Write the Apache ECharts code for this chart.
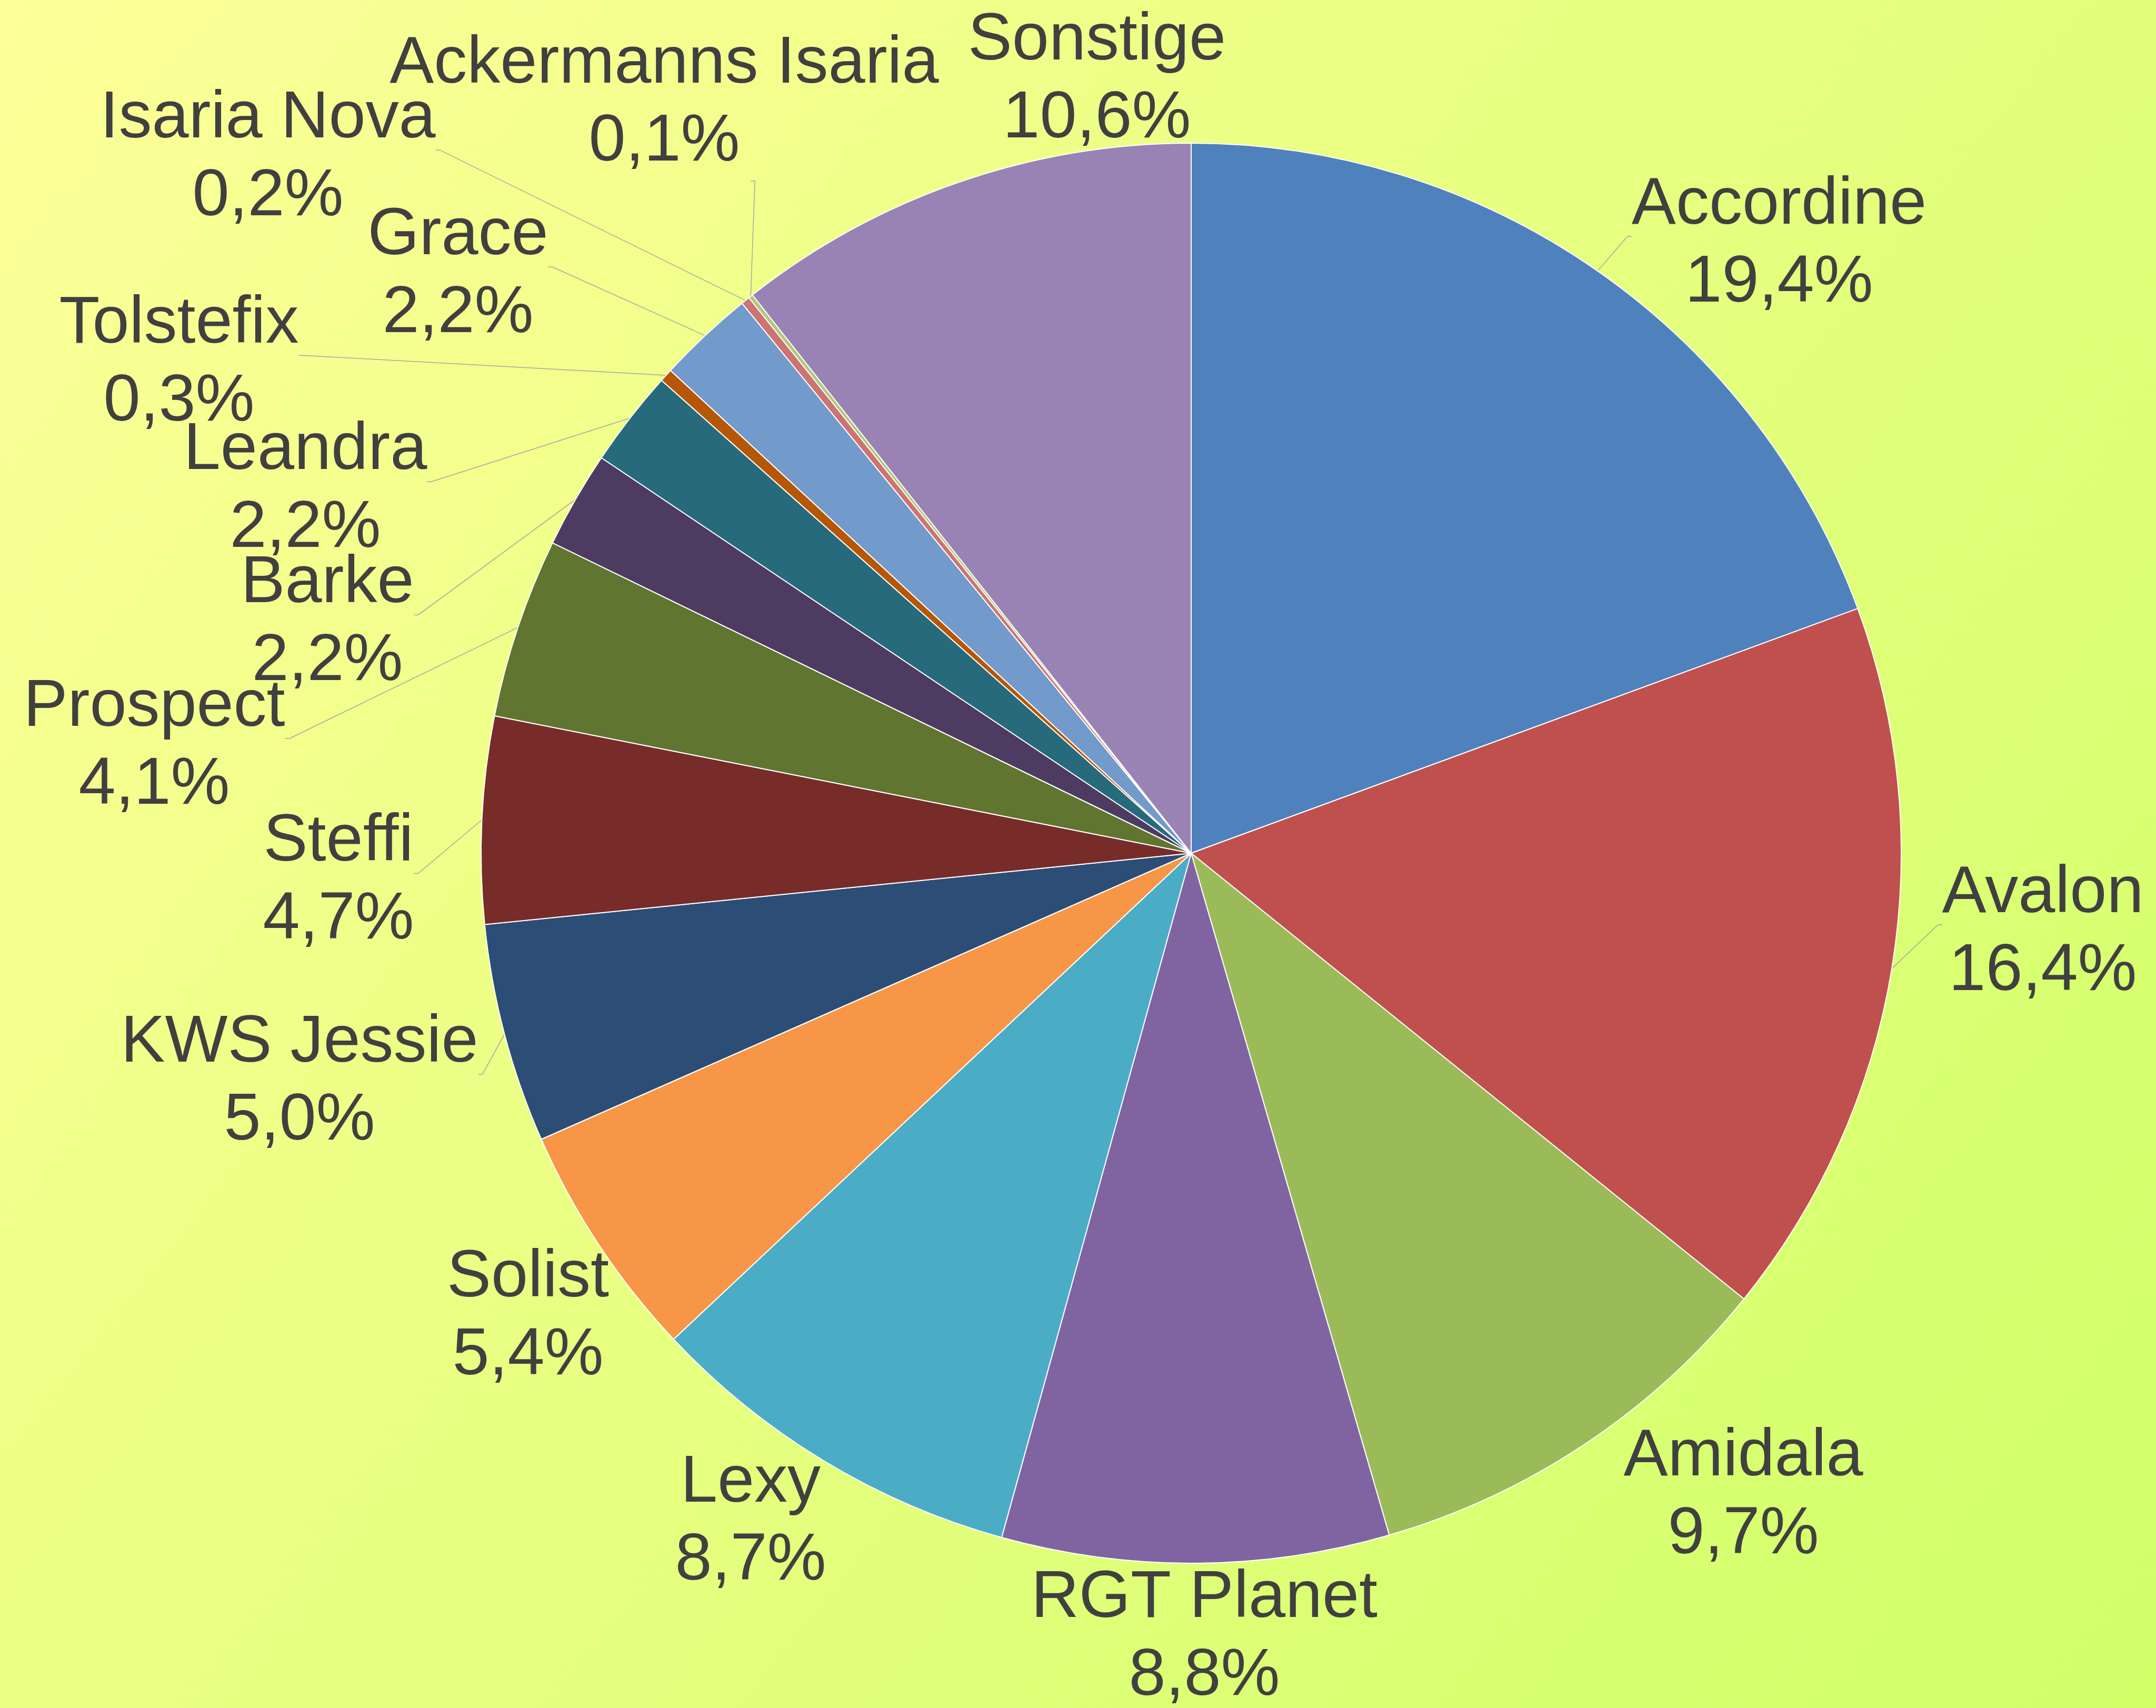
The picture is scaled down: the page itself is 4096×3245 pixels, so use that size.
<!DOCTYPE html>
<html>
<head>
<meta charset="utf-8">
<script src="https://cdn.jsdelivr.net/npm/echarts@6/dist/echarts.min.js"></script>
<style>
  html, body { margin: 0; padding: 0; }
  #chart { width: 4096px; height: 3245px; }
</style>
</head>
<body>
<div id="chart"></div>
<script>
// Sorten und Anteile (%)
var names = ['Accordine', 'Avalon', 'Amidala', 'RGT Planet', 'Lexy', 'Solist', 'KWS Jessie', 'Steffi',
  'Prospect', 'Barke', 'Leandra', 'Tolstefix', 'Grace', 'Isaria Nova', 'Ackermanns Isaria', 'Sonstige']
var shares = [19.4, 16.4, 9.7, 8.8, 8.7, 5.4, 5.0, 4.7, 4.1, 2.2, 2.2, 0.3, 2.2, 0.2, 0.1, 10.6]

// Farben (Office-Palette)
var colors = ['#4F81BD', '#C0504D', '#9BBB59', '#8064A2', '#4BACC6', '#F79646', '#2C4D75', '#772C2A',
  '#5F7530', '#4D3B62', '#276A7C', '#B65708', '#729ACA', '#CD7371', '#AFC97A', '#9983B5']

// Beschriftungen: Mitte des Textblocks (px)
var labelPos = [[3380, 464], [3881, 1772], [3312, 2842], [2288, 3111], [1426, 2892], [1003, 2502],
  [569, 2056], [643, 1674], [293, 1418], [622, 1183], [580, 930], [340, 690], [870, 522],
  [509, 300], [1262, 196], [2084, 152]]
// ohne Führungslinie
var noLeader = ['Amidala', 'RGT Planet', 'Lexy', 'Solist', 'Sonstige']

var chart = echarts.init(document.getElementById('chart'))

var pieData = names.map(function (n, i) {
  var item = { name: n, value: shares[i], itemStyle: { color: colors[i] } }
  if (noLeader.indexOf(n) >= 0) {
    item.labelLine = { show: false }
  }
  return item
})

chart.setOption({
  animation: false,
  backgroundColor: new echarts.graphic.LinearGradient(0, 0, 1, 1, [
    { offset: 0, color: '#FDFF98' },
    { offset: 1, color: '#D0FF68' }
  ]),
  series: [
    {
      type: 'pie',
      silent: true,
      center: [2263, 1621],
      radius: 1349,
      startAngle: 90,
      clockwise: true,
      avoidLabelOverlap: false,
      itemStyle: {
        borderColor: '#ffffff',
        borderWidth: 2
      },
      label: {
        show: true,
        position: 'outside',
        overflow: 'none',
        color: '#404040',
        fontFamily: 'Liberation Sans, Arial, sans-serif',
        fontSize: 126,
        lineHeight: 148,
        formatter: function (p) {
          return p.name + '\n' + p.percent.toFixed(1).replace('.', ',') + '%'
        }
      },
      labelLine: {
        show: true,
        length: 20,
        length2: 20,
        lineStyle: { color: '#A6A6A6', width: 1.5 }
      },
      labelLayout: function (params) {
        var p = labelPos[params.dataIndex]
        var w = params.labelRect.width
        var h = params.labelRect.height
        var res = { x: p[0], y: p[1], align: 'center', verticalAlign: 'middle' }
        var pts = params.labelLinePoints
        if (pts && pts[0]) {
          var a = pts[0]
          var left = p[0] - w / 2
          var right = p[0] + w / 2
          var top = p[1] - h / 2
          var bottom = p[1] + h / 2
          var ex, ey
          if (a[0] < left) {
            ex = left
            ey = p[1] - h * 0.05
          } else if (a[0] > right) {
            ex = right
            ey = p[1] - h * 0.05
          } else {
            ex = a[0]
            ey = a[1] > p[1] ? bottom : top
          }
          var stub = a[0] < ex ? 8 : -8
          res.labelLinePoints = [[a[0], a[1]], [ex - stub, ey], [ex, ey]]
        }
        return res
      },
      data: pieData
    }
  ]
})
</script>
</body>
</html>
